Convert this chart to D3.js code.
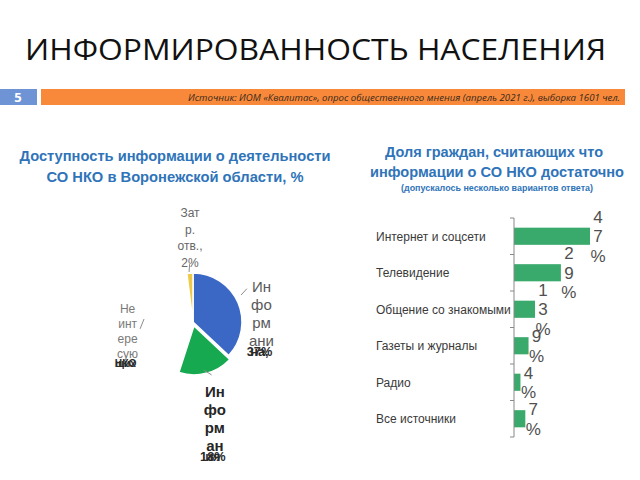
<!DOCTYPE html>
<html>
<head>
<meta charset="utf-8">
<script src="https://cdn.jsdelivr.net/npm/d3@7"></script>
<style>
  body { margin: 0; background: #fff; }
  svg { display: block; }
</style>
</head>
<body>
<div id="chart"></div>
<script>
//data: pie (left)
const pieNames = ["Информации достаточно", "Информации недостаточно", "Не интересуюсь НКО", "Затр. отв."]
const pieValues = [37, 18, 43, 2]
const pieColors = ["#3b68c5", "#16a94f", "#ffffff", "#ecc94b"]
//wrapped label lines, as rendered in the narrow label boxes
const pieLabelLines = [
  ["Ин", "фо", "рм", "ани"],
  ["Ин", "фо", "рм", "ан"],
  ["Не", "инт", "ере", "сую"],
  ["Зат", "р.", "отв.,", "2%"]
]
//leftover text piled on the last row
const pieLabelOverflow = [
  ["на,", "37%"],
  ["ия", "18%"],
  ["щих", "НКО"],
  []
]

//data: bars (right)
const barCats = ["Интернет и соцсети", "Телевидение", "Общение со знакомыми", "Газеты и журналы", "Радио", "Все источники"]
const barValues = [47, 29, 13, 9, 4, 7]

const W = 640, H = 480
const svg = d3.select("#chart").append("svg")
  .attr("width", W).attr("height", H)

//header
svg.append("text")
  .attr("x", 25).attr("y", 60)
  .attr("font-family", "Open Sans")
  .attr("font-size", 30)
  .attr("textLength", 581)
  .attr("lengthAdjust", "spacingAndGlyphs")
  .attr("fill", "#111")
  .text("ИНФОРМИРОВАННОСТЬ НАСЕЛЕНИЯ")

svg.append("rect").attr("x", 0).attr("y", 89).attr("width", 37).attr("height", 16).attr("fill", "#6f94d6")
svg.append("text").attr("x", 18).attr("y", 102)
  .attr("font-family", "Open Sans").attr("font-weight", "bold").attr("font-size", 13)
  .attr("fill", "#fff").attr("text-anchor", "middle").text("5")
svg.append("rect").attr("x", 41).attr("y", 89).attr("width", 584).attr("height", 16).attr("fill", "#f8893a")
svg.append("text").attr("x", 620).attr("y", 101)
  .attr("font-family", "Open Sans").attr("font-style", "italic").attr("font-size", 9)
  .attr("fill", "#3a2a1a").attr("text-anchor", "end")
  .attr("textLength", 432).attr("lengthAdjust", "spacingAndGlyphs")
  .text("Источник: ИОМ «Квалитас», опрос общественного мнения (апрель 2021 г.), выборка  1601 чел.")

//subtitles
const blueTitle = "#2f74b9"
function titleLine(x, y, size, txt, len) {
  let t = svg.append("text").attr("x", x).attr("y", y)
    .attr("font-family", "Liberation Sans").attr("font-weight", "bold")
    .attr("font-size", size).attr("fill", blueTitle)
    .attr("text-anchor", "middle").text(txt)
  if (len) t.attr("textLength", len).attr("lengthAdjust", "spacingAndGlyphs")
}
titleLine(175, 161, 15, "Доступность информации о деятельности", 311)
titleLine(175, 182, 15, "СО НКО в Воронежской области, %", 257)
titleLine(494, 157, 15, "Доля граждан, считающих что", 218)
titleLine(497, 177, 15, "информации о СО НКО достаточно", 254)
titleLine(497, 191, 8.5, "(допускалось несколько вариантов ответа)", 192)

/*************** pie ***************/
const pc = {x: 193, y: 322}
const radius = 49
const pie = d3.pie().sort(null).value(d => d)
const arcs = pie(pieValues)
const arc = d3.arc().innerRadius(0).outerRadius(radius)
const labelArc = d3.arc().innerRadius(radius * 1.3).outerRadius(radius * 1.3)

let pg = svg.append("g").attr("transform", "translate(" + pc.x + "," + pc.y + ")")

//explode the green slice a little
const explode = [0, 4, 0, 0]
pg.selectAll("path.slice")
  .data(arcs)
  .enter().append("path")
  .attr("class", "slice")
  .attr("d", arc)
  .attr("fill", (d, i) => pieColors[i])
  .attr("stroke", "#fff")
  .attr("stroke-width", 1.5)
  .attr("transform", (d, i) => {
    let a = (d.startAngle + d.endAngle) / 2
    return "translate(" + (Math.sin(a) * explode[i]) + "," + (-Math.cos(a) * explode[i]) + ")"
  })

//label boxes: offset from the label arc, font, line height
const labStyle = [
  {dx: 10, dy: -5, size: 15, lh: 18, col: "#595959", weight: "normal"},
  {dx: 6, dy: 13, size: 15, lh: 18, col: "#262626", weight: "bold"},
  {dx: -2, dy: -3, size: 12, lh: 15, col: "#7a7a7a", weight: "normal"},
  {dx: 1, dy: -41, size: 12, lh: 16.5, col: "#666", weight: "normal"}
]
arcs.forEach(function(d, i) {
  let c = labelArc.centroid(d)
  let s = labStyle[i]
  let g = pg.append("g").attr("transform", "translate(" + (c[0] + s.dx) + "," + (c[1] + s.dy) + ")")
  let lines = pieLabelLines[i]
  lines.forEach(function(l, j) {
    g.append("text").attr("x", 0).attr("y", j * s.lh)
      .attr("font-family", "Liberation Sans").attr("font-size", s.size)
      .attr("font-weight", s.weight)
      .attr("fill", s.col).attr("text-anchor", "middle").text(l)
  })
  //overflow pile
  pieLabelOverflow[i].forEach(function(l) {
    g.append("text").attr("x", -2).attr("y", (lines.length - 1) * s.lh + s.lh * 0.6)
      .attr("font-family", "Liberation Sans").attr("font-size", s.size * 0.85)
      .attr("font-weight", "bold")
      .attr("fill", "#2a2a2a").attr("text-anchor", "middle").text(l)
  })
})

//leader lines
const leaders = [
  [[radius * 0.98, -radius * 0.55], [radius * 1.1, -radius * 0.68]],
  [[radius * 0.22, radius * 0.98], [radius * 0.38, radius * 1.08]],
  [[-radius * 1.08, radius * 0.14], [-radius * 1.0, -radius * 0.06]],
  [[-radius * 0.08, -radius * 1.02], [-radius * 0.07, -radius * 1.18]]
]
leaders.forEach(function(l) {
  pg.append("line")
    .attr("x1", l[0][0]).attr("y1", l[0][1])
    .attr("x2", l[1][0]).attr("y2", l[1][1])
    .attr("stroke", "#8c8c8c").attr("stroke-width", 1)
})

/*************** bars ***************/
const bx0 = 514
const yScale = d3.scaleBand().domain(barCats).range([218, 437]).paddingInner(0.53).paddingOuter(0.265)
const xScale = d3.scaleLinear().domain([0, 47]).range([bx0, 590])

svg.selectAll("rect.bar")
  .data(barValues)
  .enter().append("rect")
  .attr("class", "bar")
  .attr("x", bx0)
  .attr("y", (d, i) => yScale(barCats[i]))
  .attr("width", d => xScale(d) - bx0)
  .attr("height", yScale.bandwidth())
  .attr("fill", "#3aaa6c")

//axis line with ticks between categories
let ag = svg.append("g").attr("transform", "translate(" + bx0 + ",0)")
ag.append("line").attr("x1", 0).attr("x2", 0).attr("y1", 218).attr("y2", 437)
  .attr("stroke", "#888").attr("stroke-width", 1)
d3.range(barCats.length + 1).forEach(function(i) {
  let yy = 218 + i * yScale.step()
  ag.append("line").attr("x1", -4).attr("x2", 0).attr("y1", yy).attr("y2", yy)
    .attr("stroke", "#888").attr("stroke-width", 1)
})

//category labels
svg.selectAll("text.cat")
  .data(barCats)
  .enter().append("text")
  .attr("class", "cat")
  .attr("x", 376)
  .attr("y", d => yScale(d) + yScale.bandwidth() / 2 + 4.5)
  .attr("font-family", "Liberation Sans")
  .attr("font-size", 12)
  .attr("fill", "#3a3a3a")
  .text(d => d)

//value labels: each character on its own line (narrow label box)
barValues.forEach(function(v, i) {
  let parts = String(v).split("").concat(["%"])
  let cy = yScale(barCats[i]) + yScale.bandwidth() / 2
  let lh = 19.5
  let x = xScale(v) + 8
  parts.forEach(function(p, j) {
    svg.append("text")
      .attr("x", x)
      .attr("y", cy + (j - (parts.length - 1) / 2) * lh + 6)
      .attr("font-family", "Liberation Sans")
      .attr("font-size", 17)
      .attr("fill", "#505050")
      .attr("text-anchor", "middle")
      .text(p)
  })
})
</script>
</body>
</html>
